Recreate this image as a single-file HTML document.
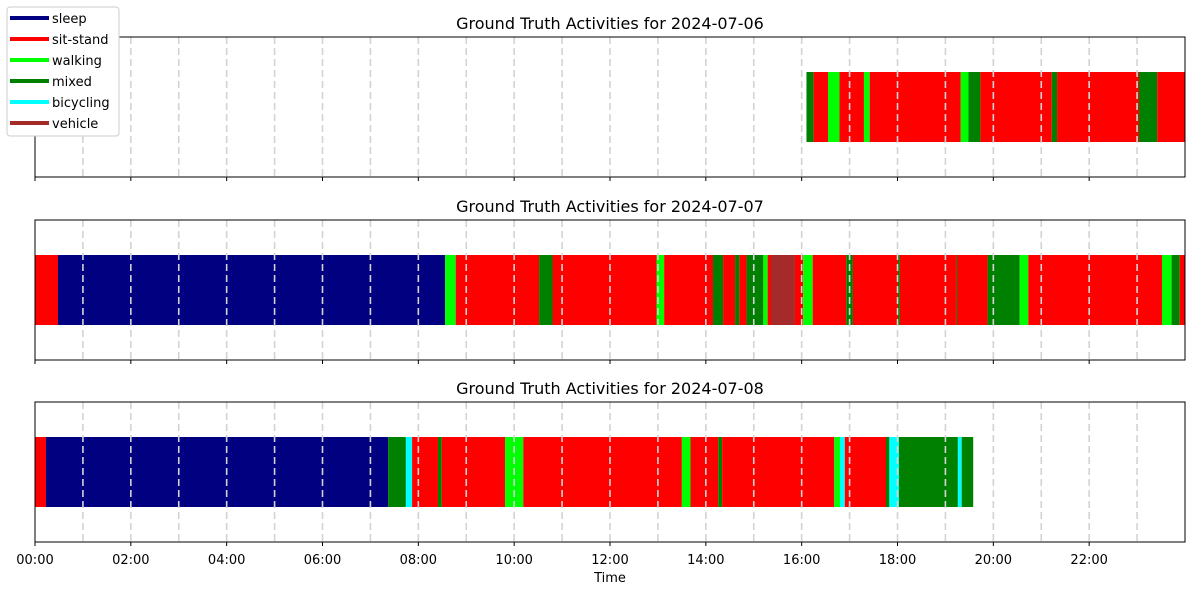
<!DOCTYPE html>
<html><head><meta charset="utf-8"><style>body{margin:0;background:#fff}svg{display:block;font-family:"DejaVu Sans","Liberation Sans",sans-serif}</style></head>
<body>
<svg id="chart" width="1200" height="600" xmlns="http://www.w3.org/2000/svg"></svg>
<script>
const colorOf={sleep:"#000080","sit-stand":"#ff0000",walking:"#00ff00",mixed:"#008000",bicycling:"#00ffff",vehicle:"#a52a2a"};
const categories=["sleep","sit-stand","walking","mixed","bicycling","vehicle"];
const dates=["2024-07-06","2024-07-07","2024-07-08"];
const tickLabels=["00:00","02:00","04:00","06:00","08:00","10:00","12:00","14:00","16:00","18:00","20:00","22:00"];
const day1Bounds=[16.10,16.25,16.55,16.79,17.30,17.42,19.32,19.48,19.73,21.22,21.33,23.04,23.42,24];
const day1Acts=["mixed","sit-stand","walking","sit-stand","walking","sit-stand","walking","mixed","sit-stand","mixed","sit-stand","mixed","sit-stand"];
const day2Bounds=[0,0.48,8.56,8.78,10.52,10.80,12.97,13.13,14.15,14.36,14.61,14.70,14.85,15.12,15.20,15.29,15.36,15.86,16.03,16.23,16.93,17.07,18.01,18.05,19.22,19.24,19.88,20.55,20.73,23.52,23.72,23.89,24];
const day2Acts=["sit-stand","sleep","walking","sit-stand","mixed","sit-stand","walking","sit-stand","mixed","sit-stand","mixed","sit-stand","mixed","mixed","walking","sit-stand","vehicle","sit-stand","walking","sit-stand","mixed","sit-stand","mixed","sit-stand","mixed","sit-stand","mixed","walking","sit-stand","walking","mixed","sit-stand"];
const day3Bounds=[0,0.23,7.37,7.74,7.87,8.41,8.49,9.81,10.19,13.50,13.68,14.26,14.34,16.68,16.80,16.90,17.76,17.83,18.03,19.26,19.34,19.58];
const day3Acts=["sit-stand","sleep","mixed","bicycling","sit-stand","mixed","sit-stand","walking","sit-stand","walking","sit-stand","mixed","sit-stand","walking","bicycling","sit-stand","mixed","bicycling","mixed","bicycling","mixed"];

const svg=document.getElementById('chart');const NS="http://www.w3.org/2000/svg";
function mk(t,a,p){const e=document.createElementNS(NS,t);for(const k in a)e.setAttribute(k,a[k]);(p||svg).appendChild(e);return e;}
const X0=35,X1=1185;const xs=h=>X0+(X1-X0)*h/24;
const panels=[[day1Bounds,day1Acts],[day2Bounds,day2Acts],[day3Bounds,day3Acts]];
const tops=[37,220,402],H=140;
panels.forEach((p,i)=>{
 const g=mk('g',{});
 
 
 const y0=tops[i],by=y0+35,bh=70;
 const [b,a]=p;
 for(let j=0;j<a.length;j++){
  const r=mk('rect',{x:xs(b[j]),y:by,width:Math.max(0,xs(b[j+1])-xs(b[j])),height:bh,fill:colorOf[a[j]]},g);
  
  
 }
 for(let h=1;h<24;h++){
  const l=mk('line',{x1:xs(h),x2:xs(h),y1:y0,y2:y0+H,stroke:"#d3d3d3","stroke-width":1.6,"stroke-dasharray":"7,4"},g);
  
  
 }
 const fr=mk('rect',{x:X0,y:y0,width:X1-X0,height:H,fill:"none",stroke:"#000","stroke-width":1},g);
 
 
 tickLabels.forEach((t,k)=>{mk('line',{x1:xs(k*2),x2:xs(k*2),y1:y0+H,y2:y0+H+4,stroke:"#000"},g);});
 const tt=mk('text',{x:610,y:y0-8,"text-anchor":"middle","font-size":16,fill:"#000"},g);
 tt.textContent="Ground Truth Activities for "+dates[i];
 
 
});
tickLabels.forEach((t,k)=>{
 const e=mk('text',{x:xs(k*2),y:564,"text-anchor":"middle","font-size":13,fill:"#000"});
 e.textContent=t;
 
 
});
const xt=mk('text',{x:610,y:582,"text-anchor":"middle","font-size":13,fill:"#000"});
xt.textContent="Time";


const lg=mk('g',{});


mk('rect',{x:7,y:7,width:112,height:129,rx:3,fill:"#fff",stroke:"#cccccc"},lg);
categories.forEach((c,k)=>{
 const y=18+k*21;
 const ln=mk('line',{x1:10,x2:49,y1:y,y2:y,stroke:colorOf[c],"stroke-width":4},lg);
 
 
 const tx=mk('text',{x:52,y:y+5,"font-size":13,fill:"#000"},lg);
 tx.textContent=c;
 
 
});
</script>
</body></html>
